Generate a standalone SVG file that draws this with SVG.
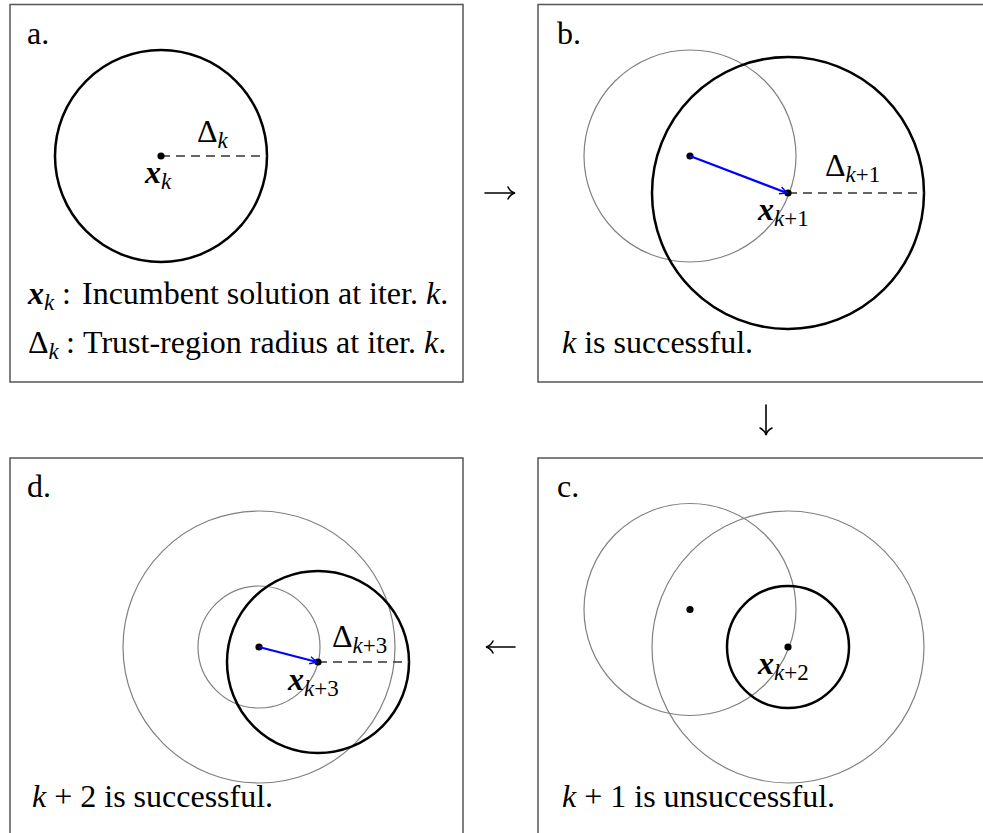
<svg xmlns="http://www.w3.org/2000/svg" width="983" height="833" viewBox="0 0 983 833">
<style>
.box{fill:#fff;stroke:#555;stroke-width:1.5}
.thick{fill:none;stroke:#000;stroke-width:2.5}
.thin{fill:none;stroke:#808080;stroke-width:1.2}
.dash{stroke:#333;stroke-width:1.3;stroke-dasharray:9,6}
.step{stroke:#0000ff;stroke-width:2.2;fill:none}
.arr{stroke:#000;stroke-width:1.6;fill:none;stroke-linecap:round}
.t{font-family:"Liberation Serif","Times New Roman",serif;font-size:32px;fill:#000}
.it{font-style:italic}
.bi{font-style:italic;font-weight:bold}
.sub{font-size:23px}
</style>
<defs>
<marker id="ah" viewBox="0 0 10 10" refX="9" refY="5" markerWidth="9" markerHeight="9" orient="auto" markerUnits="userSpaceOnUse">
<path d="M1,1 L9,5 L1,9" fill="none" stroke="#0000ff" stroke-width="1.6"/>
</marker>
</defs>
<rect width="983" height="833" fill="#fff"/>

<g id="panel-a">
<rect class="box" x="10" y="4.5" width="453" height="377.5"/>
<text class="t" x="27" y="44">a.</text>
<circle class="thick" cx="161" cy="156" r="106"/>
<line class="dash" x1="161" y1="156" x2="267" y2="156"/>
<circle cx="161" cy="156" r="3.6"/>
<text class="t" x="197" y="142">Δ<tspan class="it sub" dy="6">k</tspan></text>
<text class="t" x="145" y="183"><tspan class="bi">x</tspan><tspan class="it sub" dy="6">k</tspan></text>
<text class="t" x="28" y="304"><tspan class="bi">x</tspan><tspan class="it sub" dy="6">k</tspan></text>
<text class="t" x="62" y="304">:</text>
<text class="t" x="82" y="304">Incumbent solution at iter. <tspan class="it">k</tspan>.</text>
<text class="t" x="28" y="353">Δ<tspan class="it sub" dy="6">k</tspan></text>
<text class="t" x="66" y="353">:</text>
<text class="t" x="83" y="353">Trust-region radius at iter. <tspan class="it">k</tspan>.</text>
</g>

<g id="panel-b">
<rect class="box" x="538" y="4.5" width="460" height="377.5"/>
<text class="t" x="557" y="44">b.</text>
<circle class="thin" cx="690" cy="156" r="106"/>
<circle class="thick" cx="788" cy="193" r="136"/>
<line class="dash" x1="788" y1="193" x2="924" y2="193"/>
<circle cx="690" cy="156" r="3.6"/>
<circle cx="788" cy="193" r="3.6"/>
<text class="t" x="825" y="176">Δ<tspan class="sub" dy="6"><tspan class="it">k</tspan>+1</tspan></text>
<text class="t" x="758" y="220"><tspan class="bi">x</tspan><tspan class="sub" dy="6"><tspan class="it">k</tspan>+1</tspan></text>
<text class="t" x="562" y="353"><tspan class="it">k</tspan> is successful.</text>
</g>

<g id="panel-c">
<rect class="box" x="538" y="458" width="460" height="380"/>
<text class="t" x="557" y="497">c.</text>
<circle class="thin" cx="690" cy="609.5" r="106"/>
<circle class="thin" cx="788" cy="647" r="136"/>
<circle class="thick" cx="788" cy="647" r="61"/>
<circle cx="690" cy="609.5" r="3.6"/>
<circle cx="788" cy="647" r="3.6"/>
<text class="t" x="758" y="674"><tspan class="bi">x</tspan><tspan class="sub" dy="6"><tspan class="it">k</tspan>+2</tspan></text>
<text class="t" x="562" y="807"><tspan class="it">k</tspan> + 1 is unsuccessful.</text>
</g>

<g id="panel-d">
<rect class="box" x="10" y="458" width="453" height="380"/>
<text class="t" x="27" y="497">d.</text>
<circle class="thin" cx="259" cy="647" r="136"/>
<circle class="thin" cx="259" cy="647" r="61"/>
<circle class="thick" cx="318" cy="662" r="91"/>
<line class="dash" x1="318" y1="662" x2="409" y2="662"/>
<circle cx="259" cy="647" r="3.6"/>
<circle cx="318" cy="662" r="3.6"/>
<text class="t" x="332" y="647">Δ<tspan class="sub" dy="6"><tspan class="it">k</tspan>+3</tspan></text>
<text class="t" x="288" y="690"><tspan class="bi">x</tspan><tspan class="sub" dy="6"><tspan class="it">k</tspan>+3</tspan></text>
<text class="t" x="32" y="807"><tspan class="it">k</tspan> + 2 is successful.</text>
</g>

<g id="connectors">
<line class="step" x1="690" y1="156" x2="787" y2="193" marker-end="url(#ah)"/>
<line class="step" x1="259" y1="647" x2="317" y2="662" marker-end="url(#ah)"/>
<g id="arrow-ab">
<line class="arr" x1="485" y1="193" x2="514" y2="193"/>
<path class="arr" d="M508,187 C509.5,190 512,192.3 515,193 C512,193.7 509.5,196 508,199"/>
</g>
<g id="arrow-bc">
<line class="arr" x1="766" y1="405" x2="766" y2="434"/>
<path class="arr" d="M760,428 C763,429.5 765.3,432 766,435 C766.7,432 769,429.5 772,428"/>
</g>
<g id="arrow-cd">
<line class="arr" x1="515" y1="647" x2="487" y2="647"/>
<path class="arr" d="M493,641 C491.5,644 489,646.3 486,647 C489,647.7 491.5,650 493,653"/>
</g>
</g>
</svg>
